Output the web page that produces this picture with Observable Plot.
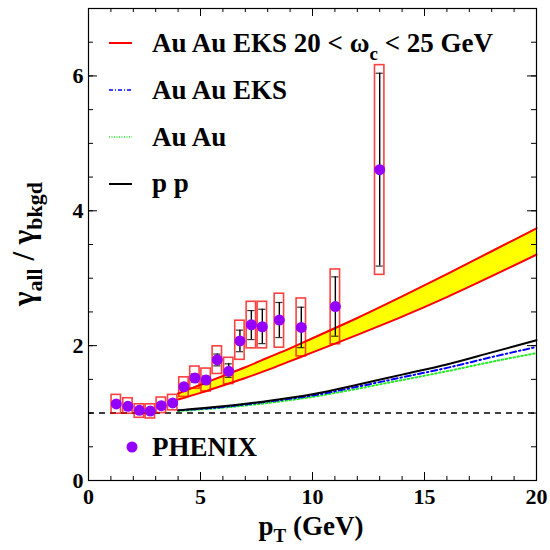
<!DOCTYPE html>
<html>
<head>
<meta charset="utf-8">
<script src="https://cdn.jsdelivr.net/npm/d3@7"></script>
<script src="https://cdn.jsdelivr.net/npm/@observablehq/plot@0.6"></script>
<style>
  body { margin: 0; background: #fff; }
  #chart { width: 550px; height: 550px; }
</style>
</head>
<body>
<div id="chart"></div>
<script>
// ---- data ----
const xTickLabels = [0, 5, 10, 15, 20];
const yTickLabels = [0, 2, 4, 6];
const xMinorTicks = d3.range(0, 21, 1);
const yMinorTicks = d3.range(0, 7.01, 0.5);

// PHENIX points
const ptVals  = [1.24, 1.76, 2.27, 2.76, 3.25, 3.76, 4.26, 4.75, 5.25, 5.75, 6.26, 6.76, 7.27, 7.76, 8.52, 9.5, 11.02, 13.0];
const ratio   = [1.135, 1.10, 1.04, 1.03, 1.11, 1.15, 1.39, 1.52, 1.49, 1.79, 1.62, 2.07, 2.31, 2.28, 2.38, 2.27, 2.58, 4.61];
const statHi  = [1.16, 1.13, 1.07, 1.06, 1.14, 1.18, 1.44, 1.58, 1.55, 1.875, 1.73, 2.23, 2.52, 2.54, 2.64, 2.57, 3.02, 6.04];
const statLo  = [1.11, 1.07, 1.01, 1.00, 1.08, 1.12, 1.34, 1.46, 1.43, 1.70, 1.53, 1.91, 2.09, 2.03, 2.12, 1.97, 2.14, 3.18];
const sysHi   = [1.27, 1.22, 1.13, 1.13, 1.23, 1.27, 1.53, 1.69, 1.66, 1.99, 1.82, 2.37, 2.65, 2.65, 2.77, 2.70, 3.13, 6.16];
const sysLo   = [0.99, 0.99, 0.93, 0.92, 1.00, 1.04, 1.24, 1.36, 1.32, 1.58, 1.43, 1.79, 1.96, 1.96, 1.97, 1.84, 2.02, 3.05];

// Au Au EKS 20 < wc < 25 GeV band
const bandPt    = [4, 5, 6, 7, 8, 9, 10, 12, 14, 16, 18, 20];
const bandLower = [1.20, 1.30, 1.41, 1.52, 1.64, 1.77, 1.90, 2.16, 2.43, 2.72, 3.03, 3.35];
const bandUpper = [1.29, 1.42, 1.55, 1.68, 1.82, 1.96, 2.11, 2.41, 2.73, 3.06, 3.40, 3.74];

// other curves
const curvePt   = [4, 6, 8, 10, 12, 14, 16, 18, 20];
const ppCurve   = [1.04, 1.10, 1.18, 1.28, 1.42, 1.57, 1.72, 1.90, 2.08];
const ekseCurve = [1.04, 1.09, 1.17, 1.26, 1.39, 1.53, 1.67, 1.83, 1.98];
const auauCurve = [1.03, 1.08, 1.15, 1.24, 1.36, 1.49, 1.62, 1.76, 1.89];

const refLevel = [1];

// ---- build tables ----
const points = ptVals.map((x, i) => ({x, y: ratio[i], sLo: statLo[i], sHi: statHi[i], yLo: sysLo[i], yHi: sysHi[i]}));
const band = bandPt.map((x, i) => ({x, lo: bandLower[i], hi: bandUpper[i]}));
const curves = curvePt.map((x, i) => ({x, pp: ppCurve[i], eks: ekseCurve[i], auau: auauCurve[i]}));

const W = 550, H = 550;
const mL = 88, mR = 14, mT = 8, mB = 70;
const pw = W - mL - mR, ph = H - mT - mB;
const boxHalf = 0.21, capHalf = 0.16;
const FONT = "'Liberation Serif', 'Times New Roman', serif";

const chart = Plot.plot({
  width: W, height: H,
  marginLeft: mL, marginRight: mR, marginTop: mT, marginBottom: mB,
  style: {fontFamily: FONT, background: "white"},
  x: {domain: [0, 20]},
  y: {domain: [0, 7]},
  marks: [
    Plot.areaY(band, {x: "x", y1: "lo", y2: "hi", fill: "#ffff00", curve: "monotone-x"}),
    Plot.lineY(band, {x: "x", y: "lo", stroke: "#ff0000", strokeWidth: 2, curve: "monotone-x"}),
    Plot.lineY(band, {x: "x", y: "hi", stroke: "#ff0000", strokeWidth: 2, curve: "monotone-x"}),
    Plot.lineY(curves, {x: "x", y: "auau", stroke: "#22ee22", strokeWidth: 2, strokeDasharray: "1.5,2.5", curve: "monotone-x"}),
    Plot.lineY(curves, {x: "x", y: "eks", stroke: "#0000ff", strokeWidth: 2, strokeDasharray: "6,3,1.5,3", curve: "monotone-x"}),
    Plot.lineY(curves, {x: "x", y: "pp", stroke: "#000", strokeWidth: 2, curve: "monotone-x"}),
    Plot.ruleY(refLevel, {y: d => d, stroke: "#000", strokeWidth: 1.6, strokeDasharray: "6,5"}),
    // systematic boxes
    Plot.rect(points, {x1: d => d.x - boxHalf, x2: d => d.x + boxHalf, y1: "yLo", y2: "yHi", fill: "none", stroke: "#ff0000", strokeWidth: 1.6, strokeOpacity: 0.75}),
    // statistical bars
    Plot.ruleX(points, {x: "x", y1: "sLo", y2: "sHi", stroke: "#000", strokeWidth: 1.4}),
    Plot.ruleY(points, {y: "sHi", x1: d => d.x - capHalf, x2: d => d.x + capHalf, stroke: "#000", strokeWidth: 1.2, strokeOpacity: 0.8}),
    Plot.ruleY(points, {y: "sLo", x1: d => d.x - capHalf, x2: d => d.x + capHalf, stroke: "#000", strokeWidth: 1.2, strokeOpacity: 0.8}),
    Plot.dot(points, {x: "x", y: "y", r: 5.5, fill: "#9400ff", stroke: "none"}),
    // inward ticks
    Plot.tickX(xMinorTicks, {x: d => d, insetTop: ph - 4, stroke: "#000"}),
    Plot.tickX(xTickLabels, {x: d => d, insetTop: ph - 8, stroke: "#000"}),
    Plot.tickX(xMinorTicks, {x: d => d, insetBottom: ph - 4, stroke: "#000"}),
    Plot.tickX(xTickLabels, {x: d => d, insetBottom: ph - 8, stroke: "#000"}),
    Plot.tickY(yMinorTicks, {y: d => d, insetRight: pw - 5, stroke: "#000"}),
    Plot.tickY(yTickLabels, {y: d => d, insetRight: pw - 9, stroke: "#000"}),
    Plot.tickY(yMinorTicks, {y: d => d, insetLeft: pw - 5, stroke: "#000"}),
    Plot.tickY(yTickLabels, {y: d => d, insetLeft: pw - 9, stroke: "#000"}),
    Plot.frame({stroke: "#000", strokeWidth: 1.2}),
    Plot.axisX({ticks: xTickLabels, tickSize: 0, tickPadding: 8, fontSize: 22, fontWeight: "bold", label: null, tickFormat: d => String(d)}),
    Plot.axisY({ticks: yTickLabels, tickSize: 0, tickPadding: 5, fontSize: 22, fontWeight: "bold", label: null, tickFormat: d => String(d)})
  ]
});

document.getElementById("chart").appendChild(chart);

// ---- titles and legend (text + swatches) ----
const svg = d3.select(chart);
const g = svg.append("g").attr("font-family", FONT).attr("font-weight", "bold").attr("fill", "#000");

// x axis title
const xt = g.append("text").attr("x", 311).attr("y", 535).attr("text-anchor", "middle").attr("font-size", 27);
xt.append("tspan").text("p");
xt.append("tspan").attr("font-size", 19).attr("dy", 7).text("T");
xt.append("tspan").attr("dy", -7).text(" (GeV)");

// y axis title
const yt = g.append("text").attr("transform", "translate(34,244) rotate(-90)").attr("text-anchor", "middle").attr("font-size", 31);
yt.append("tspan").text("γ");
yt.append("tspan").attr("font-size", 22).attr("dy", 8).text("all");
yt.append("tspan").attr("dy", -8).text(" / γ");
yt.append("tspan").attr("font-size", 22).attr("dy", 8).text("bkgd");

// legend
const legendRows = [
  {stroke: "#ff0000", dash: null, y: 43},
  {stroke: "#0000ff", dash: "4,2,1,2", y: 90},
  {stroke: "#22ee22", dash: "1,1.5", y: 137},
  {stroke: "#000000", dash: null, y: 184}
];
legendRows.forEach(r => {
  g.append("line").attr("x1", 109).attr("x2", 132).attr("y1", r.y).attr("y2", r.y)
    .attr("stroke", r.stroke).attr("stroke-width", r.dash ? 1.6 : 2).attr("stroke-dasharray", r.dash);
});
const lg = g.append("g").attr("text-anchor", "start");
const l1 = lg.append("text").attr("x", 152).attr("y", 52).attr("font-size", 27);
l1.append("tspan").text("Au Au EKS 20 < ω");
l1.append("tspan").attr("font-size", 19).attr("dy", 8).text("c");
l1.append("tspan").attr("dy", -8).text(" < 25 GeV");
lg.append("text").attr("x", 152).attr("y", 99).attr("font-size", 27).text("Au Au EKS");
lg.append("text").attr("x", 152).attr("y", 146).attr("font-size", 27).text("Au Au");
lg.append("text").attr("x", 152).attr("y", 192).attr("font-size", 27).text("p p");

g.append("circle").attr("cx", 132).attr("cy", 447).attr("r", 5.5).attr("fill", "#9400ff");
lg.append("text").attr("x", 152).attr("y", 456).attr("font-size", 27).text("PHENIX");
</script>
</body>
</html>
